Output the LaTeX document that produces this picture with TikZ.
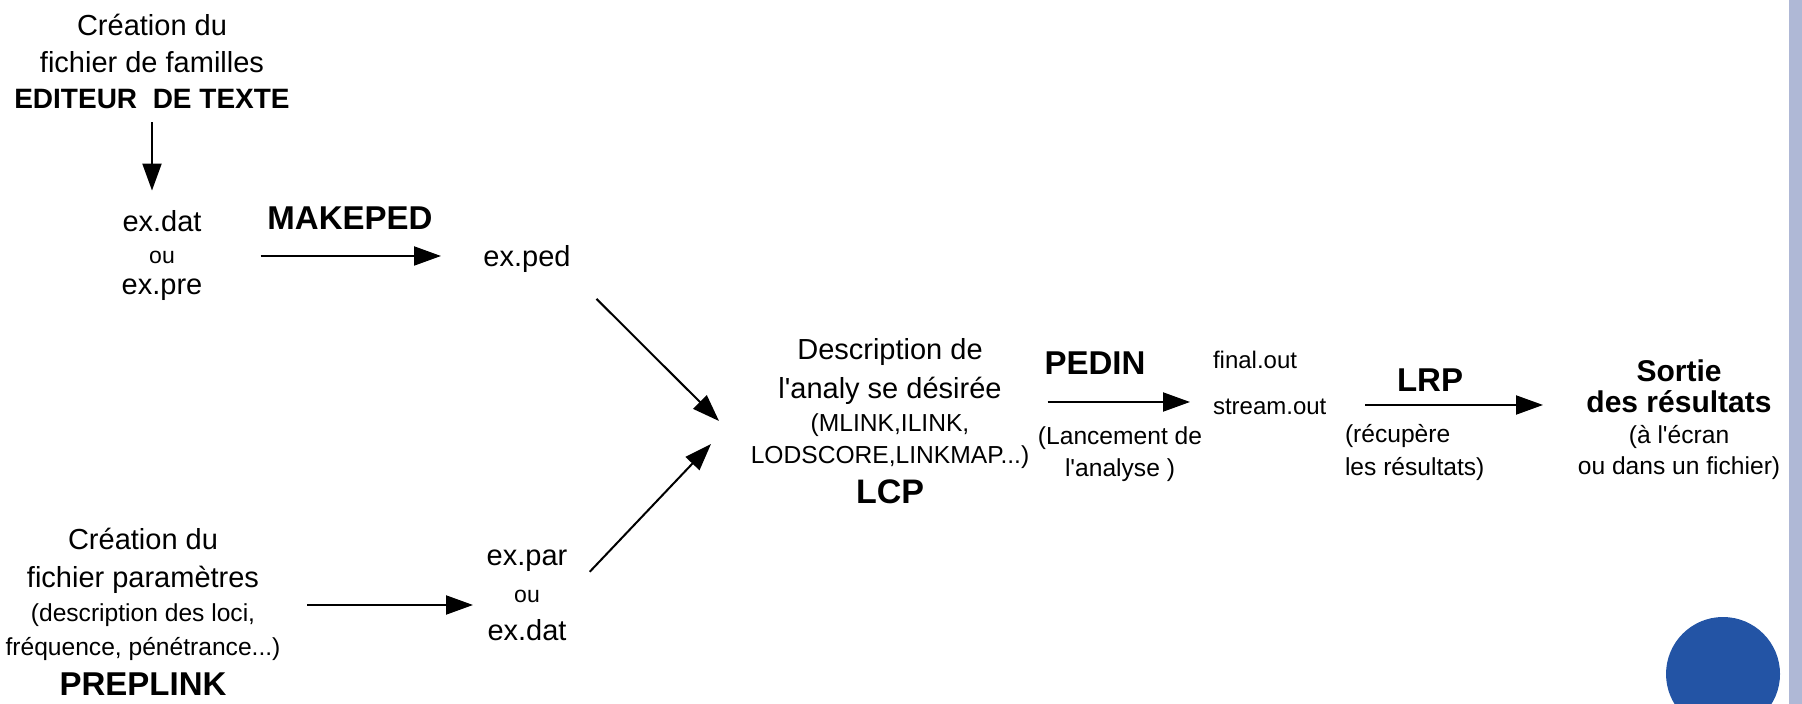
\documentclass[tikz,border=0pt]{standalone}
\usepackage{fontspec}
\setmainfont{Liberation Sans}
\usepackage{xcolor}
\usetikzlibrary{arrows.meta}

\definecolor{dotblue}{HTML}{2354A5}
\definecolor{barblue}{HTML}{AFB8D6}
\newcommand\subtxt{\fontsize{12.3}{16}\selectfont}
\newcommand\progtxt{\bfseries\fontsize{16.5}{18}\selectfont}
\newcommand\q{\textquotesingle}

\begin{document}
\begin{tikzpicture}[x=0.5pt,y=-0.5pt,
    txt/.style={align=center,inner sep=0pt,font=\fontsize{14.5}{18.25}\selectfont},
    subtext/.style={align=center,inner sep=0pt,font=\subtxt},
    prog/.style={inner sep=0pt,anchor=base,font=\progtxt},
    arr/.style={-{Triangle[length=13.5pt,width=9.5pt]},line width=1pt}]
            \useasboundingbox (0,0) rectangle (1802,704);
            \fill[barblue] (1789,0) rectangle (1802,704);
            \fill[dotblue] (1723,674) circle (28.5pt);

            \node (fam) at (152,61.5) [txt] {Création du\\fichier de familles\\{\bfseries\fontsize{14}{16}\selectfont EDITEUR\ \ DE TEXTE}};
            \node (dat) at (162,256) [txt,font=\fontsize{14.5}{15.75}\selectfont] {ex.dat\\{\fontsize{11.5}{12}\selectfont ou}\\ex.pre};
            \node (mk) at (350,230) [prog] {MAKEPED};
            \node (ped) at (527,267) [txt,anchor=base] {ex.ped};

            \node (par) at (143,612) [txt,font=\fontsize{14.5}{16.75}\selectfont] {Création du\\[2.25pt]fichier paramètres\\[0.25pt]{\subtxt (description des loci,}\\{\subtxt fréquence, pénétrance...)}\\[3.25pt]{\progtxt PREPLINK}};
            \node (ppar) at (527,595) [txt,font=\fontsize{14.5}{18.75}\selectfont] {ex.par\\{\fontsize{11.5}{12}\selectfont ou}\\ex.dat};

            \node (lcp) at (890,421) [txt,font=\fontsize{14.5}{16}\selectfont] {Description de\\[3.5pt]l\q analy se désirée\\[0.5pt]{\subtxt (MLINK,ILINK,}\\{\subtxt LODSCORE,LINKMAP...)}\\[4pt]{\bfseries\fontsize{17}{18}\selectfont LCP}};
            \node (pedin) at (1095,375) [prog] {PEDIN};
            \node (lanc) at (1120,454) [subtext] {(Lancement de\\l\q analyse )};
            \node (outs) at (1269.7,383) [subtext,align=left,font=\fontsize{12}{23}\selectfont] {final.out\\stream.out};

            \node (lrp) at (1430,392) [prog] {LRP};
            \node (recup) at (1414.7,452) [subtext,align=left,font=\fontsize{12.3}{16.5}\selectfont] {(récupère\\les résultats)};
            \node (sortie) at (1679,420) [txt,font=\bfseries\fontsize{15}{15.5}\selectfont] {Sortie\\des résultats\\{\mdseries\subtxt (à l\q écran}\\{\mdseries\subtxt ou dans un fichier)}};

            \coordinate (mktip) at (441,256);
            \coordinate (partip) at (473,605);
            \coordinate (tipa) at (719,421);
            \coordinate (tipb) at (711,444);
            \coordinate (pedtip) at (1190,402);
            \coordinate (lrptip) at (1543,405);

            \draw[arr,shorten <=6.5pt,shorten >=10pt] (fam.south) -- (fam.south |- dat.north);
            \draw[arr,shorten <=29pt] (dat.east |- mktip) -- (mktip);
            \draw[arr,shorten <=13.3pt] (par.east |- partip) -- (partip);
            \draw[arr,shorten <=18pt] (ped.south east) -- (tipa);
            \draw[arr,shorten <=16pt] (ppar.east) -- (tipb);
            \draw[arr,shorten <=9pt] (lcp.east |- pedtip) -- (pedtip);
            \draw[arr,shorten <=19.3pt] (outs.east |- lrptip) -- (lrptip);

        \end{tikzpicture}
\end{document}
